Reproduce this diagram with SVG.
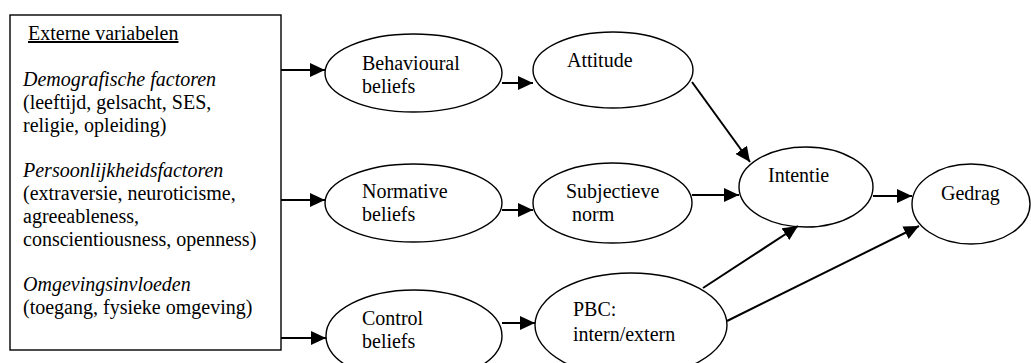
<svg xmlns="http://www.w3.org/2000/svg" width="1031" height="363" viewBox="0 0 1031 363" font-family="'Liberation Serif', 'DejaVu Serif', serif">
<style>
text{font-family:'Liberation Serif','DejaVu Serif',serif;font-size:20px;fill:#000}
.it{font-style:italic}
.node{fill:#fff;stroke:#000;stroke-width:1.4}
.conn{stroke:#000;stroke-width:2;fill:none;marker-end:url(#ah)}
</style>
<defs>
<marker id="ah" markerUnits="userSpaceOnUse" markerWidth="16" markerHeight="14" refX="15" refY="7" orient="auto">
<path d="M0,0 L15,7 L0,14 Z" fill="#000"/>
</marker>
</defs>
<rect width="1031" height="363" fill="#fff"/>
<g id="externe-variabelen">
<rect class="node" x="10" y="15" width="271" height="335"/>
<text x="28" y="40" text-decoration="underline">Externe variabelen</text>
<text class="it" x="23" y="86">Demografische factoren</text>
<text x="23" y="108.8">(leeftijd, gelsacht, SES,</text>
<text x="23" y="131.6">religie, opleiding)</text>
<text class="it" x="23" y="177.2">Persoonlijkheidsfactoren</text>
<text x="23" y="200">(extraversie, neuroticisme,</text>
<text x="23" y="222.8">agreeableness,</text>
<text x="23" y="245.6">conscientiousness, openness)</text>
<text class="it" x="23" y="291.2">Omgevingsinvloeden</text>
<text x="23" y="314">(toegang, fysieke omgeving)</text>
</g>
<g id="behavioural-beliefs">
<ellipse class="node" cx="413.5" cy="73" rx="88.5" ry="39"/>
<text x="362" y="70">Behavioural</text>
<text x="362" y="93">beliefs</text>
</g>
<g id="normative-beliefs">
<ellipse class="node" cx="413.5" cy="203" rx="88.5" ry="39"/>
<text x="362" y="198">Normative</text>
<text x="362" y="221">beliefs</text>
</g>
<g id="control-beliefs">
<ellipse class="node" cx="414" cy="336" rx="88" ry="46"/>
<text x="362" y="325">Control</text>
<text x="362" y="348">beliefs</text>
</g>
<g id="attitude">
<ellipse class="node" cx="613" cy="70" rx="80" ry="38"/>
<text x="567" y="67">Attitude</text>
</g>
<g id="subjectieve-norm">
<ellipse class="node" cx="612.5" cy="203" rx="79.5" ry="40"/>
<text x="566" y="198">Subjectieve</text>
<text x="572" y="221">norm</text>
</g>
<g id="pbc">
<ellipse class="node" cx="631" cy="325" rx="96" ry="52"/>
<text x="573" y="316">PBC:</text>
<text x="573" y="341">intern/extern</text>
</g>
<g id="intentie">
<ellipse class="node" cx="806" cy="187" rx="67" ry="40"/>
<text x="768" y="182">Intentie</text>
</g>
<g id="gedrag">
<ellipse class="node" cx="971" cy="204" rx="59" ry="40"/>
<text x="941" y="200">Gedrag</text>
</g>
<g id="connectors">
<line class="conn" x1="281" y1="70" x2="325" y2="70"/>
<line class="conn" x1="281" y1="200" x2="325" y2="200"/>
<line class="conn" x1="281" y1="338" x2="326" y2="338"/>
<line class="conn" x1="502" y1="83" x2="533" y2="83"/>
<line class="conn" x1="502" y1="210" x2="533" y2="210"/>
<line class="conn" x1="502" y1="323" x2="535" y2="323"/>
<line class="conn" x1="692" y1="82" x2="750" y2="162"/>
<line class="conn" x1="692" y1="195" x2="739" y2="195"/>
<line class="conn" x1="703" y1="288" x2="798" y2="226"/>
<line class="conn" x1="873" y1="196" x2="912" y2="196"/>
<line class="conn" x1="727" y1="321" x2="919" y2="226"/>
</g>
</svg>
